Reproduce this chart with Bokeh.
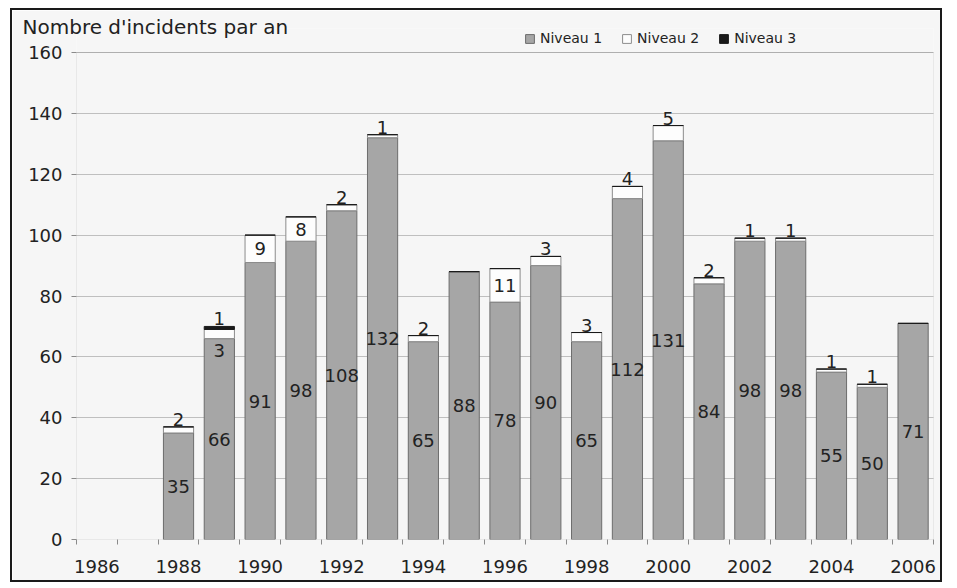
from bokeh.plotting import figure
from bokeh.models import (ColumnDataSource, FixedTicker, Legend, LegendItem,
                          Range1d, LabelSet, BoxAnnotation)
from bokeh.core.properties import value
from bokeh.embed import file_html
from bokeh.resources import INLINE

# ---------------- data ----------------
years = list(range(1988, 2007))
niveau1 = [35, 66, 91, 98, 108, 132, 65, 88, 78, 90, 65, 112, 131, 84, 98, 98, 55, 50, 71]
niveau2 = [2, 3, 9, 8, 2, 1, 2, 0, 11, 3, 3, 4, 5, 2, 1, 1, 1, 1, 0]
niveau3 = [0, 1, 0, 0, 0, 0, 0, 0, 0, 0, 0, 0, 0, 0, 0, 0, 0, 0, 0]
x_tick_years = list(range(1986, 2007, 2))
y_ticks = list(range(0, 161, 20))
title_text = "Nombre d'incidents par an"
series_names = ["Niveau 1", "Niveau 2", "Niveau 3"]

# ---------------- styles / layout ----------------
FONT = "DejaVu Sans"
TXT = "#222222"
C1, C1L = "#a6a6a6", "#6c6c6c"
C2, C2L = "#fdfdfd", "#8c8c8c"
C3 = "#1a1a1a"
BG = "#f6f6f6"
BAR_W = 0.74
X_MIN, X_MAX = 1985.5, 2006.5
Y_AXIS_MAX = 160

W, H = 932, 574
MB_LEFT, MB_RIGHT, MB_TOP, MB_BOTTOM = 64, 11, 18, 45
HEADROOM_PX = 24            # room above the 160 line for the legend
FRAME_H = H - MB_TOP - MB_BOTTOM
Y_RANGE_MAX = Y_AXIS_MAX * FRAME_H / (FRAME_H - HEADROOM_PX)

top1 = [a for a in niveau1]
top2 = [a + b for a, b in zip(niveau1, niveau2)]
top3 = [a + b + c for a, b, c in zip(niveau1, niveau2, niveau3)]

src = ColumnDataSource(dict(x=years, b1=[0] * len(years), t1=top1, t2=top2, t3=top3))

p = figure(width=W, height=H, output_backend="svg", toolbar_location=None,
           x_range=Range1d(X_MIN, X_MAX), y_range=Range1d(0, Y_RANGE_MAX),
           min_border_left=MB_LEFT, min_border_right=MB_RIGHT,
           min_border_top=MB_TOP, min_border_bottom=MB_BOTTOM)
p.border_fill_color = BG
p.background_fill_color = BG
p.outline_line_color = None
p.styles = {"margin-left": "10px", "margin-top": "8px",
            "border": "2px solid #1a1a1a"}

# plot-area box (0..160)
p.add_layout(BoxAnnotation(left=X_MIN, right=X_MAX, bottom=0, top=Y_AXIS_MAX,
                           fill_alpha=0, line_color="#8a8a8a", line_width=1))

r1 = p.vbar(x="x", width=BAR_W, bottom="b1", top="t1", source=src,
            fill_color=C1, line_color=C1L, line_width=1)
r2 = p.vbar(x="x", width=BAR_W, bottom="t1", top="t2", source=src,
            fill_color=C2, line_color=C2L, line_width=1)
r3 = p.vbar(x="x", width=BAR_W, bottom="t2", top="t3", source=src,
            fill_color=C3, line_color=C3, line_width=1)

# ---------------- labels ----------------
lab_kw = dict(text_font=value(FONT), text_font_size="18px", text_color=TXT,
              text_align="center")

s1 = ColumnDataSource(dict(x=years, y=[v / 2 for v in niveau1],
                           t=[str(v) for v in niveau1]))
p.add_layout(LabelSet(x="x", y="y", text="t", source=s1,
                      text_baseline="middle", **lab_kw))

in_x, in_y, in_t = [], [], []
ab_x, ab_y, ab_t = [], [], []
be_x, be_y, be_t = [], [], []
for yr, a, b, c in zip(years, niveau1, niveau2, niveau3):
    if b <= 0:
        continue
    if b >= 8:
        in_x.append(yr); in_y.append(a + b / 2); in_t.append(str(b))
    elif c > 0:
        be_x.append(yr); be_y.append(a); be_t.append(str(b))
    else:
        ab_x.append(yr); ab_y.append(a + b); ab_t.append(str(b))

p.add_layout(LabelSet(x="x", y="y", text="t",
                      source=ColumnDataSource(dict(x=in_x, y=in_y, t=in_t)),
                      text_baseline="middle", **lab_kw))
p.add_layout(LabelSet(x="x", y="y", text="t",
                      source=ColumnDataSource(dict(x=ab_x, y=ab_y, t=ab_t)),
                      text_baseline="bottom", y_offset=1, **lab_kw))
p.add_layout(LabelSet(x="x", y="y", text="t",
                      source=ColumnDataSource(dict(x=be_x, y=be_y, t=be_t)),
                      text_baseline="top", y_offset=-5, **lab_kw))

n3_x = [yr for yr, c in zip(years, niveau3) if c > 0]
n3_y = [t for t, c in zip(top3, niveau3) if c > 0]
n3_t = [str(c) for c in niveau3 if c > 0]
p.add_layout(LabelSet(x="x", y="y", text="t",
                      source=ColumnDataSource(dict(x=n3_x, y=n3_y, t=n3_t)),
                      text_baseline="bottom", y_offset=1, **lab_kw))

# ---------------- axes ----------------
p.xaxis.ticker = FixedTicker(ticks=x_tick_years,
                             minor_ticks=[y + 0.5 for y in range(1985, 2007)])
p.xaxis.axis_line_color = None
p.xaxis.major_tick_out = 0
p.xaxis.major_tick_in = 0
p.xaxis.minor_tick_out = 5
p.xaxis.minor_tick_in = 0
p.xaxis.minor_tick_line_color = "#8a8a8a"
p.xaxis.major_label_standoff = 15
p.xgrid.grid_line_color = None

p.yaxis.ticker = FixedTicker(ticks=y_ticks)
p.yaxis.axis_line_color = None
p.yaxis.major_tick_out = 5
p.yaxis.major_tick_in = 0
p.yaxis.major_tick_line_color = "#8a8a8a"
p.yaxis.minor_tick_line_color = None
p.yaxis.major_label_standoff = 9
p.ygrid.grid_line_color = "#888888"
p.ygrid.grid_line_dash = "1 1"

for ax in (p.xaxis, p.yaxis):
    ax.major_label_text_font = FONT
    ax.major_label_text_font_size = "18px"
    ax.major_label_text_color = TXT

# ---------------- legend (inside the headroom of the frame) ----------------
legend = Legend(items=[LegendItem(label=series_names[0], renderers=[r1]),
                       LegendItem(label=series_names[1], renderers=[r2]),
                       LegendItem(label=series_names[2], renderers=[r3])],
                orientation="horizontal", location=(448, FRAME_H - 18),
                glyph_width=11, glyph_height=11, label_height=14,
                label_standoff=5, spacing=19, padding=0, margin=0,
                border_line_alpha=0, background_fill_alpha=0,
                label_text_font=FONT, label_text_font_size="14px",
                label_text_color=TXT)
p.add_layout(legend)

# ---------------- title ----------------
p.title.text = title_text
p.title.text_font = FONT
p.title.text_font_size = "20px"
p.title.text_font_style = "normal"
p.title.text_color = TXT
p.title.align = "left"
p.title.offset = -54
p.title.standoff = -20

open("out.html", "w").write(file_html(p, INLINE))
